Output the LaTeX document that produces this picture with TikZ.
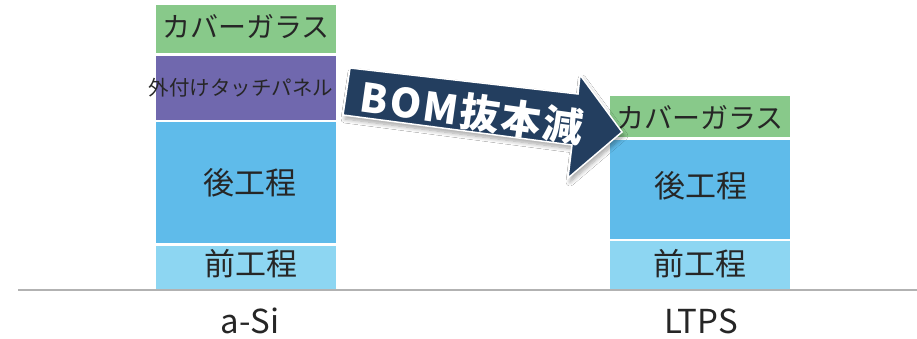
\documentclass[tikz,border=0pt]{standalone}
\usepackage{fontspec}
\setmainfont{Noto Sans CJK JP}
\usetikzlibrary{shadows.blur,calc}
\definecolor{cgreen}{RGB}{136,201,138}
\definecolor{cpurple}{RGB}{112,104,174}
\definecolor{cblue}{RGB}{95,187,234}
\definecolor{clight}{RGB}{141,214,242}
\definecolor{cnavy}{RGB}{35,62,95}
\definecolor{ctext}{RGB}{38,38,38}
\begin{document}
\begin{tikzpicture}[x=1pt,y=-1pt,
  layer/.style={draw=none, inner sep=0pt, anchor=north west, minimum width=180pt},
  lbl/.style={inner sep=0pt, text=ctext},
  big/.style={font=\fontsize{28}{30}\selectfont},
  mid/.style={font=\fontsize{31}{33}\selectfont},
  small/.style={font=\fontsize{20.5}{22}\selectfont},
  axislbl/.style={inner sep=0pt, text=ctext, font=\fontsize{33}{35}\selectfont},
  bomarrow/.style={fill=cnavy, draw=white, line width=1.5pt, line join=miter,
    blur shadow={shadow xshift=2pt, shadow yshift=-4pt, shadow opacity=35,
      shadow blur radius=4pt, shadow blur steps=8}}
]
\useasboundingbox (0,0) rectangle (917,339);
\fill[white] (0,0) rectangle (917,339);

% left column (a-Si)
\node[layer, fill=cgreen,  minimum height=48pt]  (lcover) at (156,5)   {};
\node[layer, fill=cpurple, minimum height=64pt]  (ltouch) at (156,56)  {};
\node[layer, fill=cblue,   minimum height=121pt] (lback)  at (156,122) {};
\node[layer, fill=clight,  minimum height=44pt]  (lfront) at (156,246) {};

\node[lbl, big]   (tlcover) at ($(lcover.center)+(0,-3)$) {カバーガラス};
\node[lbl, small] (tltouch) at ($(ltouch.center)+(-5,0)$) {外付けタッチパネル};
\node[lbl, mid]   (tlback)  at ($(lback.center)+(4,0)$)  {後工程};
\node[lbl, mid]   (tlfront) at ($(lfront.center)+(5,-5)$) {前工程};

% right column (LTPS)
\node[layer, fill=cgreen, minimum height=41pt] (rcover) at (610,96)  {};
\node[layer, fill=cblue,  minimum height=99pt] (rback)  at (610,140) {};
\node[layer, fill=clight, minimum height=49pt] (rfront) at (610,241) {};

\node[lbl, big] (trcover) at ($(rcover.center)+(0,1)$) {カバーガラス};
\node[lbl, mid] (trback)  at ($(rback.center)+(1,-4)$) {後工程};
\node[lbl, mid] (trfront) at ($(rfront.center)+(0,-2)$) {前工程};

% baseline
\coordinate (axl) at (18,290);
\coordinate (axr) at (917,290);
\draw[black!30, line width=1.5pt] (axl) -- (axr);

\node[axislbl] (asi)  at (250,321) {a-Si};
\node[axislbl] (ltps) at (701,321) {LTPS};

% BOM arrow
\draw[bomarrow] (350,68) -- (578,94) -- (580,75) -- (622,132) -- (568,178)
  -- (572,145) -- (343,115) -- cycle;
\node[inner sep=0pt, text=white, rotate=-8,
  font=\fontsize{40}{42}\selectfont\bfseries\addfontfeatures{LetterSpace=5}] (bom) at (472,112) {BOM抜本減};
\end{tikzpicture}
\end{document}
